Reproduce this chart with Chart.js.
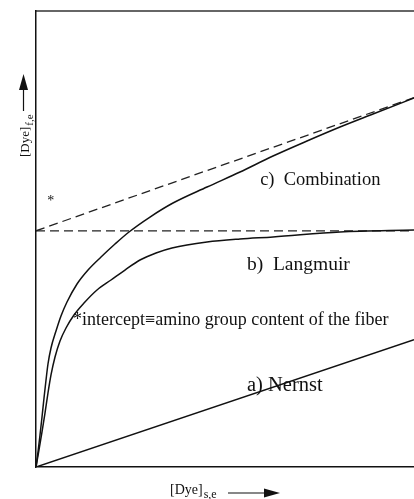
<!DOCTYPE html>
<html>
<head>
<meta charset="utf-8">
<script src="https://cdn.jsdelivr.net/npm/chart.js@4.4.1/dist/chart.umd.min.js"></script>
<style>
  html, body { margin: 0; padding: 0; background: #fff; }
  #wrap { width: 414px; height: 499px; }
</style>
</head>
<body>
<div id="wrap"><canvas id="isotherm" width="414" height="499"></canvas></div>
<script>
// ── data (arbitrary units) ───────────────────────────────────
const nernstX = [0, 100];
const nernstY = [0, 27.9];

const langmuirX = [0, 0.79, 1.59, 2.38, 3.17, 3.97, 5.03, 6.35, 7.94, 10.05, 12.70, 16.14, 19.84, 23.54, 27.51, 31.75, 35.98, 45.24, 53.97, 62.70, 80.42, 100];
const langmuirY = [0, 3.73, 7.68, 11.84, 16.23, 20.18, 24.12, 27.63, 30.48, 33.33, 35.96, 38.82, 41.01, 43.20, 45.39, 46.93, 48.03, 49.34, 50.00, 50.44, 51.54, 51.97];

const combX = [0, 0.53, 1.06, 1.59, 2.12, 2.65, 3.17, 3.97, 5.29, 6.61, 8.20, 10.85, 13.76, 17.20, 20.90, 24.60, 30.16, 36.24, 45.24, 53.97, 62.70, 71.69, 80.42, 89.15, 100];
const combY = [0, 3.29, 7.02, 10.96, 15.13, 19.08, 22.59, 26.10, 29.82, 33.11, 36.18, 40.13, 43.20, 46.05, 48.90, 51.54, 54.82, 57.89, 61.40, 64.69, 68.20, 71.49, 74.56, 77.41, 80.92];

const interceptX = [0, 100];
const plateauY   = [51.8, 51.8];
const asymptoteY = [51.8, 81.0];

const toPoints = (xs, ys) => xs.map((x, i) => ({ x: x, y: ys[i] }));

// ── labels drawn on the plot ────────────────────────────────
const SERIF = '"Liberation Serif", "DejaVu Serif", serif';
const notes = [
  { text: 'c)  Combination', x: 59.3, y: 62.9, size: 18.5 },
  { text: 'b)  Langmuir', x: 55.8, y: 44.3, size: 19.5 },
  { text: '*intercept\u2261amino group content of the fiber', x: 9.8, y: 32.2, size: 18 },
  { text: 'a) Nernst', x: 55.8, y: 17.8, size: 20.5 },
  { text: '*', x: 3.0, y: 58.2, size: 14 }
];

const labelPlugin = {
  id: 'labels',
  afterDraw(chart) {
    const { ctx, scales: { x, y } } = chart;
    ctx.save();
    ctx.fillStyle = '#111';
    ctx.textBaseline = 'middle';
    notes.forEach(n => {
      ctx.font = `${n.size}px ${SERIF}`;
      ctx.fillText(n.text, x.getPixelForValue(n.x), y.getPixelForValue(n.y));
    });

    // x axis title with arrow
    ctx.textBaseline = 'alphabetic';
    ctx.font = `14px ${SERIF}`;
    const xt = '[Dye]';
    const xl = 170, xb = 494;
    ctx.fillText(xt, xl, xb);
    const w1 = ctx.measureText(xt).width;
    ctx.font = `12px ${SERIF}`;
    ctx.fillText('s,e', xl + w1 + 1, xb + 4);
    ctx.strokeStyle = '#111';
    ctx.lineWidth = 1.2;
    ctx.beginPath();
    ctx.moveTo(228, 493); ctx.lineTo(266, 493);
    ctx.stroke();
    ctx.beginPath();
    ctx.moveTo(280, 493); ctx.lineTo(264, 488.5); ctx.lineTo(264, 497.5);
    ctx.closePath(); ctx.fill();

    // y axis title with arrow
    ctx.save();
    ctx.translate(29, 157);
    ctx.rotate(-Math.PI / 2);
    ctx.font = `13px ${SERIF}`;
    ctx.fillText(xt, 0, 0);
    const w2 = ctx.measureText(xt).width;
    ctx.font = `11px ${SERIF}`;
    ctx.fillText('f,e', w2 + 1, 4);
    ctx.restore();
    ctx.beginPath();
    ctx.moveTo(23.5, 111); ctx.lineTo(23.5, 88);
    ctx.stroke();
    ctx.beginPath();
    ctx.moveTo(23.5, 74); ctx.lineTo(19, 90); ctx.lineTo(28, 90);
    ctx.closePath(); ctx.fill();
    ctx.restore();
  }
};

const solid = { borderColor: '#111', borderWidth: 1.5, pointRadius: 0, fill: false };
const dashed = { borderColor: '#222', borderWidth: 1.3, pointRadius: 0, fill: false, borderDash: [9, 5] };

new Chart(document.getElementById('isotherm'), {
  type: 'line',
  data: {
    datasets: [
      { ...solid, label: 'Nernst', data: toPoints(nernstX, nernstY) },
      { ...solid, label: 'Langmuir', data: toPoints(langmuirX, langmuirY), cubicInterpolationMode: 'monotone' },
      { ...solid, label: 'Combination', data: toPoints(combX, combY), cubicInterpolationMode: 'monotone' },
      { ...dashed, label: 'plateau', data: toPoints(interceptX, plateauY) },
      { ...dashed, label: 'asymptote', data: toPoints(interceptX, asymptoteY) }
    ]
  },
  options: {
    responsive: false,
    animation: false,
    layout: { padding: { left: 36, top: 11, right: 0, bottom: 32 } },
    plugins: { legend: { display: false }, tooltip: { enabled: false } },
    scales: {
      x: {
        type: 'linear', min: 0, max: 100,
        ticks: { display: false },
        grid: { display: false, drawTicks: false },
        border: { display: true, color: '#111', width: 1.5 }
      },
      top: {
        type: 'linear', position: 'top', min: 0, max: 100,
        ticks: { display: false },
        grid: { display: false, drawTicks: false },
        border: { display: true, color: '#666', width: 2 }
      },
      y: {
        type: 'linear', min: 0, max: 100,
        ticks: { display: false },
        grid: { display: false, drawTicks: false },
        border: { display: true, color: '#111', width: 1.5 }
      }
    }
  },
  plugins: [labelPlugin]
});
</script>
</body>
</html>
